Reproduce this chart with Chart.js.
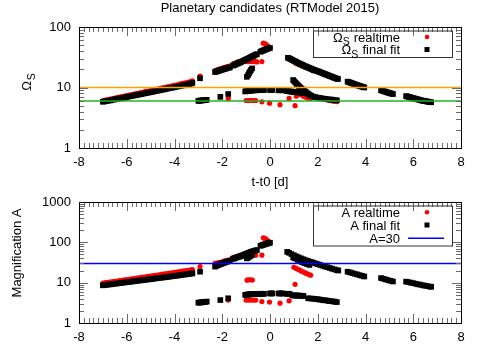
<!DOCTYPE html>
<html><head><meta charset="utf-8">
<script src="https://cdn.jsdelivr.net/npm/chart.js@4"></script>
<style>
html,body{margin:0;padding:0;background:#fff;width:500px;height:350px;overflow:hidden}
canvas{position:absolute;left:0}
#c1{top:0}
#c2{top:175px}
</style></head><body>
<canvas id="c1" width="500" height="195"></canvas>
<canvas id="c2" width="500" height="175"></canvas>
<script>
// ---------- data ----------
const xTickValues = [-8,-6,-4,-2,0,2,4,6,8];
const omegaTickValues = [1,10,100];
const magTickValues = [1,10,100,1000];
const omegaThresholds = [10, 6];
const magThreshold = 30;

const omegaRealtime = [
[-7.0,6.1],[-6.9,6.2],[-6.8,6.3],[-6.7,6.45],[-6.6,6.55],[-6.5,6.7],[-6.4,6.8],[-6.3,6.95],[-6.2,7.1],[-6.1,7.2],[-6.0,7.35],[-5.9,7.5],[-5.8,7.65],[-5.7,7.8],[-5.6,7.95],[-5.5,8.1],[-5.4,8.25],[-5.3,8.4],[-5.2,8.6],[-5.1,8.75],[-5.0,8.9],[-4.9,9.1],[-4.8,9.3],[-4.7,9.45],[-4.6,9.65],[-4.5,9.85],[-4.4,10.05],[-4.3,10.25],[-4.2,10.45],[-4.1,10.65],[-4.0,10.9],[-3.9,11.1],[-3.8,11.35],[-3.7,11.6],[-3.6,11.8],[-3.5,12.05],[-3.4,12.3],[-3.3,12.6],[-3.25,12.9],
[-2.93,15.5],
[-2.3,19.0],[-2.2,19.7],[-2.1,20.3],[-2.0,21.0],[-1.9,21.6],[-1.8,22.2],[-1.7,22.5],
[-1.55,24.3],[-1.5,24.8],[-1.45,25.3],[-1.4,25.8],[-1.35,26.3],[-1.3,26.8],
[-0.96,26.8],[-0.9,26.8],[-0.84,27.0],[-0.78,27.0],[-0.72,26.8],[-0.66,26.8],[-0.6,26.8],[-0.55,26.5],[-0.34,26.8],
[-0.28,54],[-0.22,53],[-0.16,51],[-0.1,49],[-0.05,47],
[1.1,25.0],[1.2,24.0],[1.3,23.0],[1.4,22.2],[1.5,21.4],[1.6,20.6],[1.7,19.8],[1.8,19.0],
[-1.75,6.6],[-1.0,6.1],[-0.9,6.1],[-0.8,6.15],[-0.7,6.1],[-0.6,6.1],[-0.34,5.8],[-0.02,5.5],[0.42,5.2],[0.8,6.6],[1.05,5.0],
[1.1,7.2],[1.3,7.6],[1.4,7.2],[1.5,6.9],[1.6,6.7],[1.7,6.6],[2.4,6.2],[2.5,6.1],[2.6,6.0],[2.7,5.9],[2.8,5.85]
];

const omegaFinal = [
[-7.0,5.8],[-6.9,5.9],[-6.8,6.0],[-6.7,6.1],[-6.6,6.25],[-6.5,6.35],[-6.4,6.45],[-6.3,6.6],[-6.2,6.7],[-6.1,6.8],[-6.0,6.95],[-5.9,7.1],[-5.8,7.2],[-5.7,7.35],[-5.6,7.5],[-5.5,7.6],[-5.4,7.75],[-5.3,7.9],[-5.2,8.05],[-5.1,8.2],[-5.0,8.35],[-4.9,8.5],[-4.8,8.7],[-4.7,8.85],[-4.6,9.0],[-4.5,9.2],[-4.4,9.35],[-4.3,9.55],[-4.2,9.75],[-4.1,9.9],[-4.0,10.1],[-3.9,10.3],[-3.8,10.5],[-3.7,10.7],[-3.6,10.9],[-3.5,11.1],[-3.4,11.35],[-3.3,11.6],[-3.25,11.9],
[-2.93,14.2],
[-2.3,18.0],[-2.25,18.3],[-2.2,18.6],[-2.15,18.9],[-2.1,19.2],[-2.05,19.5],[-2.0,19.8],[-1.95,20.0],[-1.9,20.3],[-1.85,20.6],[-1.8,20.9],
[-1.72,21.3],[-1.68,21.5],
[-1.55,23.0],[-1.5,23.5],[-1.45,24.0],[-1.4,24.5],[-1.35,25.0],[-1.3,25.5],[-1.25,26.0],[-1.2,26.6],[-1.15,27.2],[-1.1,27.8],[-1.05,28.4],[-1.0,29.0],[-0.95,29.7],[-0.9,30.4],[-0.85,31.0],[-0.8,31.8],[-0.75,32.5],[-0.7,33.2],[-0.65,34.0],[-0.6,34.8],[-0.55,35.6],
[-0.4,39.0],[-0.35,39.8],[-0.3,40.6],[-0.25,41.4],[-0.2,42.2],[-0.15,43.0],[-0.1,43.8],[-0.05,44.5],[0.0,45.0],
[-0.97,15.0],[-0.92,16.0],[-0.88,17.2],[-0.84,18.3],[-0.8,19.5],[-0.75,20.7],
[0.75,31.0],[0.8,30.4],[0.85,29.7],[0.9,29.0],[0.95,28.3],[1.0,27.6],[1.05,27.0],[1.1,26.4],[1.15,25.8],[1.2,25.2],[1.25,24.7],[1.3,24.2],[1.35,23.7],[1.4,23.2],[1.45,22.7],[1.5,22.2],[1.55,21.8],[1.6,21.4],[1.65,21.0],[1.7,20.6],[1.75,20.2],[1.8,19.8],[1.85,19.5],[1.9,19.2],[1.95,18.9],[2.0,18.6],[2.05,18.2],[2.1,17.9],[2.15,17.6],[2.2,17.3],[2.25,17.0],[2.3,16.7],[2.35,16.4],[2.4,16.1],[2.45,15.8],[2.5,15.5],[2.55,15.3],[2.6,15.0],[2.65,14.7],[2.7,14.5],[2.75,14.2],[2.8,14.0],[2.85,13.8],
[3.25,12.5],[3.3,12.3],[3.35,12.1],[3.4,11.9],[3.45,11.7],[3.5,11.5],[3.55,11.3],[3.6,11.1],[3.65,10.9],[3.7,10.8],[3.75,10.6],[3.8,10.5],[3.85,10.3],[3.9,10.2],[3.95,10.0],
[4.65,9.0],[4.7,8.9],[4.75,8.7],[4.8,8.6],[4.85,8.5],[4.9,8.35],[4.95,8.2],[5.0,8.1],[5.05,8.0],[5.1,7.9],[5.15,7.8],
[5.7,7.2],[5.75,7.1],[5.8,7.0],[5.85,6.95],[5.9,6.85],[5.95,6.75],[6.0,6.65],[6.05,6.6],[6.1,6.5],[6.15,6.4],[6.2,6.35],[6.25,6.25],[6.3,6.2],[6.35,6.1],[6.4,6.05],[6.45,6.0],[6.5,5.95],[6.55,5.9],[6.6,5.85],[6.65,5.8],[6.7,5.75],[6.75,5.7],
[-3.0,6.0],[-2.95,6.05],[-2.9,6.1],[-2.85,6.1],[-2.8,6.15],[-2.75,6.2],[-2.7,6.2],[-2.65,6.25],
[-2.08,7.0],[-1.75,7.8],
[-1.04,8.6],[-1.0,8.7],[-0.96,8.7],[-0.92,8.8],[-0.88,8.8],[-0.84,8.9],[-0.8,8.9],[-0.76,8.9],[-0.72,9.0],[-0.68,9.0],[-0.64,9.0],[-0.6,9.0],[-0.56,9.0],
[-0.45,9.1],[-0.4,9.1],[-0.35,9.1],[-0.3,9.1],[-0.25,9.1],
[0.0,9.1],[0.05,9.1],[0.1,9.1],
[0.36,9.0],[0.42,9.0],[0.48,9.0],[0.54,9.0],
[0.7,8.7],[0.76,8.7],[0.82,8.6],[0.88,8.6],[0.94,8.5],[1.0,8.5],[1.06,8.4],[1.12,8.4],[1.18,8.3],[1.24,8.3],[1.3,8.2],[1.36,8.1],
[0.97,13.3],[1.02,12.6],[1.07,12.0],[1.12,11.4],[1.17,10.9],[1.22,10.4],[1.27,10.0],[1.32,9.6],[1.37,9.2],[1.42,8.9],[1.47,8.6],[1.52,8.3],[1.57,8.0],[1.62,7.7],[1.67,7.5],[1.72,7.3],[1.8,7.1],[1.9,6.95],[2.0,6.8],[2.1,6.7],[2.2,6.6],[2.3,6.5],[2.4,6.4],[2.5,6.35],[2.6,6.3],[2.7,6.2],[2.8,6.15]
];

const magRealtime = [
[-7.0,9.8],[-6.9,10.0],[-6.8,10.2],[-6.7,10.4],[-6.6,10.6],[-6.5,10.8],[-6.4,11.0],[-6.3,11.2],[-6.2,11.45],[-6.1,11.7],[-6.0,11.9],[-5.9,12.15],[-5.8,12.4],[-5.7,12.65],[-5.6,12.9],[-5.5,13.2],[-5.4,13.45],[-5.3,13.75],[-5.2,14.0],[-5.1,14.3],[-5.0,14.6],[-4.9,14.9],[-4.8,15.2],[-4.7,15.5],[-4.6,15.85],[-4.5,16.2],[-4.4,16.5],[-4.3,16.9],[-4.2,17.2],[-4.1,17.6],[-4.0,17.9],[-3.9,18.3],[-3.8,18.7],[-3.7,19.1],[-3.6,19.5],[-3.5,19.9],[-3.4,20.3],[-3.3,20.8],[-3.25,21.0],
[-2.93,25],
[-2.3,30],[-2.2,31],[-2.1,32],[-2.0,33],[-1.9,34.5],[-1.8,36],[-1.7,37],
[-1.55,41],[-1.5,42],[-1.45,43],[-1.4,44],[-1.35,45],[-1.3,46],[-1.2,47.5],[-1.1,50],[-1.0,53],
[-0.96,11.5],[-0.9,11.8],[-0.82,11.8],[-0.74,11.6],
[-0.8,50],[-0.7,48],[-0.6,48],[-0.34,48],
[-0.28,130],[-0.22,125],[-0.16,118],[-0.1,110],[-0.05,104],
[1.0,24],[1.1,22.5],[1.2,21],[1.3,19.5],[1.4,18.3],[1.5,17.2],[1.6,16.2],[1.7,15.3],
[-1.75,3.7],[-1.0,3.7],[-0.9,3.7],[-0.8,3.7],[-0.7,3.7],[-0.6,3.7],[-0.34,3.4],[-0.02,3.3],[0.42,3.1],[0.8,3.55],[1.05,9.1],
[2.0,3.75],[2.2,3.6],[2.4,3.5],[2.6,3.4],[2.7,3.3]
];

const magFinal = [
[-7.0,8.6],[-6.9,8.75],[-6.8,8.9],[-6.7,9.05],[-6.6,9.2],[-6.5,9.4],[-6.4,9.55],[-6.3,9.7],[-6.2,9.9],[-6.1,10.1],[-6.0,10.25],[-5.9,10.45],[-5.8,10.6],[-5.7,10.8],[-5.6,11.0],[-5.5,11.2],[-5.4,11.4],[-5.3,11.6],[-5.2,11.8],[-5.1,12.0],[-5.0,12.2],[-4.9,12.45],[-4.8,12.7],[-4.7,12.9],[-4.6,13.15],[-4.5,13.4],[-4.4,13.6],[-4.3,13.85],[-4.2,14.1],[-4.1,14.4],[-4.0,14.65],[-3.9,14.9],[-3.8,15.2],[-3.7,15.5],[-3.6,15.8],[-3.5,16.1],[-3.4,16.4],[-3.3,16.8],[-3.25,17.0],
[-2.93,18.7],
[-2.3,25],[-2.25,26],[-2.2,27],[-2.15,27.8],[-2.1,28.5],[-2.05,29.2],[-2.0,30],[-1.95,30.8],[-1.9,31.6],[-1.85,32.4],[-1.8,33.2],
[-1.72,34.5],[-1.68,35],
[-1.55,39],[-1.5,40],[-1.45,41],[-1.4,42],[-1.35,43],[-1.3,44],[-1.25,45],[-1.2,46],[-1.15,47.5],[-1.1,49],[-1.05,50],[-1.0,51.5],[-0.95,53],[-0.9,54.5],[-0.85,56],[-0.8,57.5],[-0.75,59],[-0.7,60],[-0.65,61.5],[-0.6,63],[-0.55,64],
[-0.97,40],[-0.9,42],[-0.83,45],[-0.76,48],
[-0.4,82],[-0.35,84],[-0.3,86],[-0.25,88],[-0.2,90],[-0.15,92],[-0.1,94],[-0.05,96],[0.0,98],
[0.72,58],[0.8,55],[0.9,51],[1.0,48],[1.1,45],[1.2,42.5],[1.3,40],[1.4,38],[1.5,36],[1.6,34.5],[1.7,33],[1.8,31.5],[1.9,30],[2.0,28.8],[2.1,27.5],[2.2,26.3],[2.3,25.2],[2.4,24.2],[2.5,23.2],[2.6,22.2],[2.7,21.3],[2.8,20.5],[2.86,20.0],
[3.25,18.7],[3.35,18.0],[3.45,17.3],[3.55,16.6],[3.65,16.0],[3.75,15.4],[3.85,14.8],[3.95,14.2],
[4.65,13.0],[4.75,12.5],[4.85,12.0],[4.95,11.5],[5.05,11.1],[5.15,10.7],
[5.7,10.6],[5.8,10.3],[5.9,10.0],[6.0,9.7],[6.1,9.4],[6.2,9.1],[6.3,8.9],[6.4,8.6],[6.5,8.4],[6.6,8.2],[6.7,8.0],[6.75,7.9],
[0.97,42],[1.05,40],[1.15,37],[1.25,34.5],[1.35,32],[1.45,30.5],[1.55,29],[1.65,27.5],
[-3.0,3.2],[-2.95,3.2],[-2.9,3.25],[-2.85,3.25],[-2.8,3.3],[-2.75,3.3],[-2.7,3.35],[-2.65,3.4],
[-2.08,3.7],[-1.75,4.1],
[-1.04,5.0],[-1.0,5.0],[-0.96,5.05],[-0.92,5.1],[-0.88,5.1],[-0.84,5.15],[-0.8,5.15],[-0.76,5.2],[-0.72,5.2],[-0.68,5.2],[-0.64,5.2],[-0.6,5.25],[-0.56,5.25],
[-0.45,5.3],[-0.4,5.3],[-0.35,5.3],[-0.3,5.3],[-0.25,5.3],
[0.0,5.4],[0.05,5.4],[0.1,5.4],
[0.36,5.4],[0.42,5.4],[0.48,5.4],[0.54,5.4],
[0.7,5.3],[0.76,5.3],[0.82,5.3],
[0.94,4.85],[1.0,4.8],[1.06,4.8],[1.12,4.8],[1.18,4.8],[1.24,4.75],[1.3,4.75],[1.36,4.7],[1.4,4.7],
[1.6,4.1],[1.7,4.05],[1.8,4.0],[1.9,3.95],[2.0,3.9],[2.1,3.8],[2.2,3.7],[2.3,3.65],[2.4,3.6],[2.5,3.5],[2.6,3.45],[2.7,3.4],[2.8,3.3]
];

// ---------- styling ----------
const FONT = "'Liberation Sans', Arial, Helvetica, sans-serif";
Chart.defaults.font.family = FONT;
Chart.defaults.font.size = 13;
Chart.defaults.color = '#000';
const RED = '#ff0000', BLACK = '#000000', ORANGE = '#ffa500', GREEN = '#22b022', BLUE = '#0000ff';

const toXY = arr => arr.map(p => ({x: p[0], y: p[1]}));

function pointSet(label, arr, color, style, radius, order) {
  return { label, data: toXY(arr), showLine: false, pointStyle: style, pointRadius: radius,
    pointBackgroundColor: color, pointBorderWidth: 0, backgroundColor: color, borderColor: color, order };
}
function hLine(label, value, color, order) {
  return { label, type: 'line', data: [{x: xTickValues[0], y: value}, {x: xTickValues[xTickValues.length-1], y: value}],
    borderColor: color, borderWidth: 1.5, pointRadius: 0, showLine: true, fill: false, order };
}

// frame + inward tick marks (gnuplot style)
const frameTicks = {
  id: 'frameTicks',
  afterDatasetsDraw(chart) {
    const {ctx, chartArea: a, scales: {x, y}} = chart;
    ctx.save();
    ctx.strokeStyle = '#6a6a6a';
    ctx.lineWidth = 1;
    ctx.beginPath();
    const xMin = xTickValues[0], xMax = xTickValues[xTickValues.length-1];
    const nMinor = Math.round((xMax - xMin) / 0.2);
    for (let i = 0; i <= nMinor; i++) {
      const v = xMin + i * 0.2;
      const px = Math.round(x.getPixelForValue(v)) + 0.5;
      const L = (i % 10 === 0) ? 9 : 5;
      ctx.moveTo(px, a.bottom); ctx.lineTo(px, a.bottom - L);
      ctx.moveTo(px, a.top); ctx.lineTo(px, a.top + L);
    }
    const yt = y.options.ticksList;
    for (let d = 0; d < yt.length - 1; d++) {
      for (let m = 1; m <= 9; m++) {
        const v = yt[d] * m;
        const py = Math.round(y.getPixelForValue(v)) + 0.5;
        const L = (m === 1) ? 9 : 5;
        ctx.moveTo(a.left, py); ctx.lineTo(a.left + L, py);
        ctx.moveTo(a.right, py); ctx.lineTo(a.right - L, py);
      }
    }
    ctx.stroke();
    ctx.strokeStyle = '#000';
    ctx.strokeRect(Math.round(a.left) + 0.5, Math.round(a.top) + 0.5, Math.round(a.right - a.left), Math.round(a.bottom - a.top));
    ctx.restore();
  }
};

// legend (gnuplot style: text right-aligned, symbol on the right)
const gpLegend = {
  id: 'gpLegend',
  afterDraw(chart, args, opts) {
    const ctx = chart.ctx;
    ctx.save();
    ctx.strokeStyle = '#333';
    ctx.lineWidth = 1;
    ctx.strokeRect(opts.box[0] + 0.5, opts.box[1] + 0.5, opts.box[2], opts.box[3]);
    opts.items.forEach((it, i) => {
      const yMid = opts.rowY[i];
      const base = yMid + 4.6;
      ctx.fillStyle = '#000';
      ctx.textBaseline = 'alphabetic';
      ctx.textAlign = 'left';
      ctx.font = '13px ' + FONT;
      const wMain = ctx.measureText(it.main).width;
      const wRest = it.rest ? ctx.measureText(it.rest).width : 0;
      ctx.font = '10.5px ' + FONT;
      const wSub = it.sub ? ctx.measureText(it.sub).width + 0.5 : 0;
      let xs = opts.textRight - (wMain + wSub + wRest);
      ctx.font = '13px ' + FONT;
      ctx.fillText(it.main, xs, base);
      xs += wMain;
      if (it.sub) { ctx.font = '10.5px ' + FONT; ctx.fillText(it.sub, xs, base + 3.5); xs += wSub; }
      if (it.rest) { ctx.font = '13px ' + FONT; ctx.fillText(it.rest, xs, base); }
      const sx = opts.symbolX;
      ctx.fillStyle = it.color; ctx.strokeStyle = it.color;
      if (it.kind === 'dot') { ctx.beginPath(); ctx.arc(sx, yMid, 2.3, 0, Math.PI * 2); ctx.fill(); }
      else if (it.kind === 'square') { ctx.fillRect(sx - 2.5, yMid - 2.5, 5, 5); }
      else if (it.kind === 'line') { ctx.lineWidth = 1.5; ctx.beginPath(); ctx.moveTo(sx - 19, yMid); ctx.lineTo(sx + 17, yMid); ctx.stroke(); }
    });
    ctx.restore();
  }
};

// titles
const gpTexts = {
  id: 'gpTexts',
  afterDraw(chart, args, opts) {
    const ctx = chart.ctx;
    ctx.save();
    ctx.fillStyle = '#000';
    (opts.items || []).forEach(t => {
      ctx.save();
      ctx.translate(t.x, t.y);
      if (t.rot) ctx.rotate(-Math.PI / 2);
      ctx.font = '13px ' + FONT;
      ctx.textBaseline = 'alphabetic';
      if (t.sub) {
        ctx.textAlign = 'left';
        const w = ctx.measureText(t.text).width;
        ctx.font = '10.5px ' + FONT;
        const ws = ctx.measureText(t.sub).width;
        const x0 = -(w + ws + 1) / 2;
        ctx.font = '13px ' + FONT;
        ctx.fillText(t.text, x0, 0);
        ctx.font = '10.5px ' + FONT;
        ctx.fillText(t.sub, x0 + w + 1, 3.5);
      } else {
        ctx.textAlign = 'center';
        ctx.fillText(t.text, 0, 0);
      }
      ctx.restore();
    });
    ctx.restore();
  }
};

function makeChart(id, cfg) {
  return new Chart(document.getElementById(id), {
    type: 'scatter',
    data: { datasets: cfg.datasets },
    options: {
      responsive: false, animation: false, devicePixelRatio: 1, events: [],
      layout: { padding: { top: 27, right: 39, bottom: 0, left: 0 } },
      plugins: { legend: { display: false }, tooltip: { enabled: false },
        gpLegend: cfg.legend, gpTexts: { items: cfg.texts } },
      scales: {
        x: { type: 'linear', min: xTickValues[0], max: xTickValues[xTickValues.length-1],
          grid: { display: false, drawTicks: false }, border: { display: false },
          afterBuildTicks: s => { s.ticks = xTickValues.map(v => ({ value: v })); },
          afterFit: s => { s.height = cfg.xHeight; },
          ticks: { padding: 7, autoSkip: false, maxRotation: 0, callback: v => String(v) } },
        y: { type: 'logarithmic', min: cfg.yTicks[0], max: cfg.yTicks[cfg.yTicks.length-1],
          ticksList: cfg.yTicks,
          grid: { display: false, drawTicks: false }, border: { display: false },
          afterBuildTicks: s => { s.ticks = cfg.yTicks.map(v => ({ value: v })); },
          afterFit: s => { s.width = 79; },
          ticks: { padding: 8, autoSkip: false, callback: v => String(v) } }
      }
    },
    plugins: [frameTicks, gpLegend, gpTexts]
  });
}

makeChart('c1', {
  yTicks: omegaTickValues, xHeight: 47,
  datasets: [
    pointSet('ΩS realtime', omegaRealtime, RED, 'circle', 2.6, 2),
    pointSet('ΩS final fit', omegaFinal, BLACK, 'rect', 4.0, 1),
    hLine('threshold 10', omegaThresholds[0], ORANGE, 0),
    hLine('threshold 6', omegaThresholds[1], GREEN, 0)
  ],
  legend: { box: [313, 30.5, 139, 26.5], textRight: 400, symbolX: 427, rowY: [37, 49.5],
    items: [ { main: 'Ω', sub: 'S', rest: ' realtime', kind: 'dot', color: RED },
             { main: 'Ω', sub: 'S', rest: ' final fit', kind: 'square', color: BLACK } ] },
  texts: [
    { text: 'Planetary candidates (RTModel 2015)', x: 270, y: 11.5 },
    { text: 't-t0 [d]', x: 270, y: 186 },
    { text: 'Ω', sub: 'S', x: 31, y: 82, rot: true }
  ]
});

makeChart('c2', {
  yTicks: magTickValues, xHeight: 27,
  datasets: [
    pointSet('A realtime', magRealtime, RED, 'circle', 2.6, 2),
    pointSet('A final fit', magFinal, BLACK, 'rect', 4.0, 1),
    hLine('A=30', magThreshold, BLUE, 0)
  ],
  legend: { box: [313, 30.5, 139, 40], textRight: 400, symbolX: 427, rowY: [37.3, 50, 63.3],
    items: [ { main: 'A realtime', kind: 'dot', color: RED },
             { main: 'A final fit', kind: 'square', color: BLACK },
             { main: 'A=30', kind: 'line', color: BLUE } ] },
  texts: [
    { text: 'Magnification A', x: 21, y: 78, rot: true }
  ]
});
</script>
</body></html>
